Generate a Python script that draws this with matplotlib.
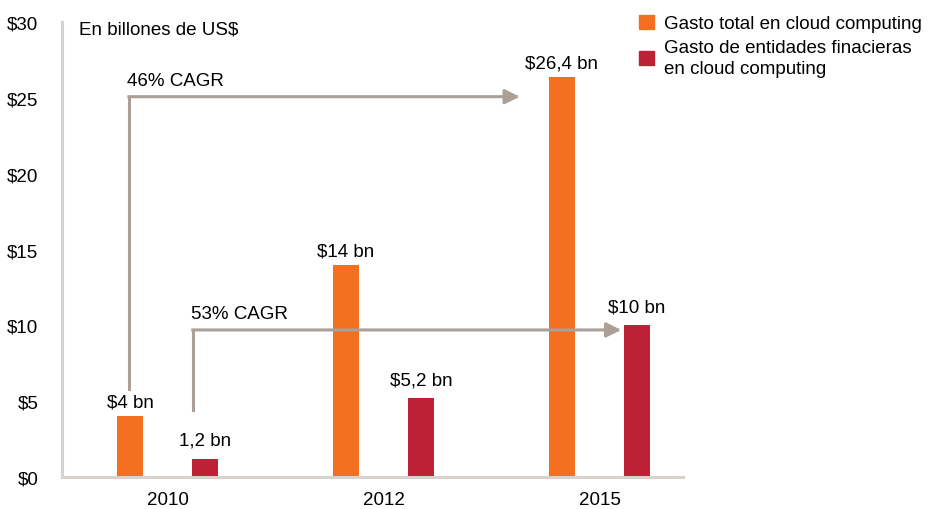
import numpy as np
import matplotlib.pyplot as plt
from matplotlib.patches import Patch

plt.rcParams['font.family'] = ['Liberation Sans', 'DejaVu Sans']

# Datos (billones de US$)
years = ["2010", "2012", "2015"]
gasto_total = [4, 14, 26.4]
gasto_financiero = [1.2, 5.2, 10]
etiquetas_total = ["$4 bn", "$14 bn", "$26,4 bn"]
etiquetas_financiero = ["1,2 bn", "$5,2 bn", "$10 bn"]
y_ticks = [0, 5, 10, 15, 20, 25, 30]

naranja = "#f37021"
rojo = "#bc2135"
gris_eje = "#d8d2cc"
gris_flecha = "#aaa097"
fs = 13.5

fig = plt.figure(figsize=(9.39, 5.10), dpi=100)
ax = fig.add_axes([0.066, 0.063, 0.661, 0.891])

x = np.arange(len(years))
off = 0.174
w = 0.12
ax.bar(x - off, gasto_total, w, color=naranja)
ax.bar(x + off, gasto_financiero, w, color=rojo)

for xi, v, t in zip(x - off, gasto_total, etiquetas_total):
    ax.annotate(t, (xi, v), xytext=(0, 4), textcoords="offset points",
                ha="center", va="bottom", fontsize=fs)
for xi, v, t in zip(x + off, gasto_financiero, etiquetas_financiero):
    ax.annotate(t, (xi, v), xytext=(0, 7), textcoords="offset points",
                ha="center", va="bottom", fontsize=fs)


def flecha_cagr(x0, y0, y1, x1, texto):
    # tramo vertical y tramo horizontal con punta de flecha
    ax.plot([x0, x0], [y0, y1], color=gris_flecha, lw=2.2,
            solid_capstyle="projecting")
    ax.annotate("", xy=(x1, y1), xytext=(x0, y1),
                arrowprops=dict(arrowstyle="-|>", color=gris_flecha, lw=2.2,
                                mutation_scale=22, shrinkA=0, shrinkB=0,
                                capstyle="projecting"))
    ax.text(x0 - 0.01, y1 + 0.5, texto, fontsize=fs, ha="left", va="bottom")


flecha_cagr(-0.18, 5.8, 25.1, 1.63, "46% CAGR")
flecha_cagr(0.116, 4.4, 9.7, 2.1, "53% CAGR")

ax.text(-0.41, 29.6, "En billones de US$", fontsize=fs, ha="left", va="center")

ax.set_xlim(-0.49, 2.385)
ax.set_ylim(0, 30)
ax.set_xticks(x)
ax.set_xticklabels(years)
ax.set_yticks(y_ticks)
ax.set_yticklabels([f"${v}" for v in y_ticks])
ax.tick_params(axis="both", length=0, labelsize=fs)
ax.tick_params(axis="y", pad=17)
ax.tick_params(axis="x", pad=10)

for s in ["top", "right"]:
    ax.spines[s].set_visible(False)
for s in ["left", "bottom"]:
    ax.spines[s].set_color(gris_eje)
    ax.spines[s].set_linewidth(2.2)

handles = [Patch(color=naranja), Patch(color=rojo)]
fig.legend(handles, ["Gasto total en cloud computing",
                     "Gasto de entidades finacieras\nen cloud computing"],
           loc="upper left", bbox_to_anchor=(0.667, 0.995), frameon=False,
           fontsize=fs, handlelength=0.8, handleheight=0.8,
           handletextpad=0.5, labelspacing=0.35, borderpad=0.2)
for t in fig.legends[0].get_texts():
    t.set_linespacing(1.35)

fig.savefig("out.png", dpi=100)
